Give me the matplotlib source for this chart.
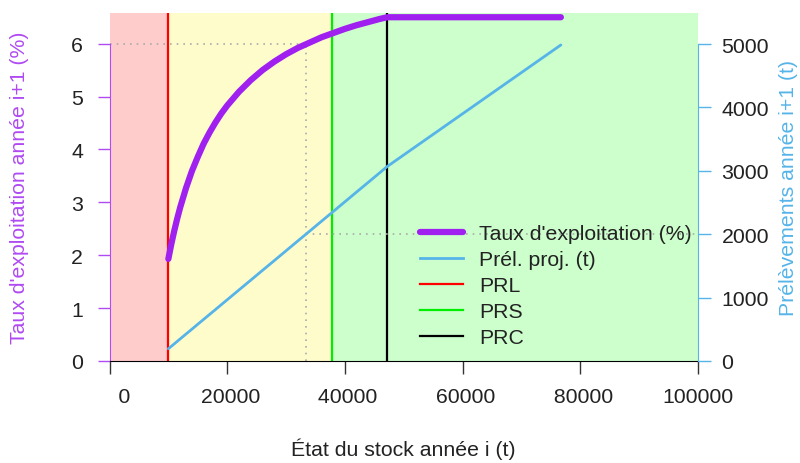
import matplotlib
matplotlib.use("Agg")
import matplotlib.pyplot as plt
from matplotlib.lines import Line2D

plt.rcParams['font.family'] = ['Liberation Sans', 'DejaVu Sans']
FS = 15.3

# --- data ---
stock = [10000, 10500, 11000, 11500, 12000, 13000, 14000, 15000, 16000, 17000,
         18000, 19000, 20000, 22000, 24000, 26000, 28000, 30000, 32000, 34000,
         36000, 38000, 40000, 42000, 44000, 46000, 47200, 76700]
taux = [1.93, 2.21, 2.46, 2.69, 2.90, 3.27, 3.59, 3.86, 4.11, 4.32,
        4.51, 4.68, 4.83, 5.09, 5.31, 5.50, 5.66, 5.80, 5.92, 6.02,
        6.12, 6.20, 6.28, 6.35, 6.41, 6.47, 6.50, 6.50]
prel = [193, 232, 270, 309, 348, 425, 502, 580, 657, 734,
        811, 889, 966, 1121, 1275, 1430, 1584, 1739, 1894, 2048,
        2203, 2357, 2512, 2667, 2821, 2976, 3069, 4986]
PRL, PRS, PRC = 10000, 37800, 47200
ref_stock, ref_taux, ref_prel = 33400, 6.0, 2000
xticks = [0, 20000, 40000, 60000, 80000, 100000]
xticklabels = ["     0", " 20000", " 40000", " 60000", " 80000", "100000"]
yticks_left = [0, 1, 2, 3, 4, 5, 6]
yticks_right = [0, 1000, 2000, 3000, 4000, 5000]

PURPLE = '#A020F0'
PURPLE_AX = '#B04AF2'
BLUE = '#56B4E9'

fig = plt.figure(figsize=(8, 4.64), dpi=100)
ax = fig.add_axes([109.5/800, 1 - 362/464, (698 - 109.5)/800, (362 - 14)/464])
ax2 = ax.twinx()

ax.set_xlim(0, 100000)
ax.set_ylim(0, 6.58)
ax2.set_ylim(0, 5490)

# background zones
ax.axvspan(0, PRL, color='#FFCCCC', lw=0, zorder=0)
ax.axvspan(PRL, PRS, color='#FFFCCC', lw=0, zorder=0)
ax.axvspan(PRS, 100000, color='#CCFFCC', lw=0, zorder=0)

# dotted reference lines
ax.plot([0, ref_stock], [ref_taux, ref_taux], color='#AAAAAA', ls=(0, (1, 3)), lw=1.2, zorder=1)
ax.plot([ref_stock, ref_stock], [0, ref_taux], color='#AAAAAA', ls=(0, (1, 3)), lw=1.2, zorder=1)
ax2.plot([ref_stock, 100000], [ref_prel, ref_prel], color='#AAAAAA', ls=(0, (1, 3)), lw=1.2, zorder=1)

# reference points
ax.axvline(PRL, color='#FF0000', lw=1.6, zorder=2)
ax.axvline(PRS, color='#00EE00', lw=1.6, zorder=2)
ax.axvline(PRC, color='#000000', lw=1.6, zorder=2)

ax.plot(stock, taux, color=PURPLE, lw=4.5, solid_capstyle='round',
        solid_joinstyle='round', zorder=3)
ax2.plot(stock, prel, color=BLUE, lw=2.0, solid_capstyle='round', zorder=3)

# axes styling
for a in (ax, ax2):
    a.spines['top'].set_visible(False)
ax.spines['right'].set_visible(False)
ax2.spines['left'].set_visible(False)
ax2.spines['bottom'].set_visible(False)
ax.spines['left'].set_color(PURPLE_AX)
ax.spines['left'].set_bounds(0, 6)
ax2.spines['right'].set_color(BLUE)
ax2.spines['right'].set_bounds(0, 5000)

ax.set_xticks(xticks)
ax.set_xticklabels(xticklabels)
ax.set_yticks(yticks_left)
ax2.set_yticks(yticks_right)
ax.tick_params(axis='x', length=9, width=1, colors='#333333', labelcolor='#222222',
               labelsize=FS, pad=10)
ax.tick_params(axis='y', length=9, width=1, color=PURPLE_AX, labelcolor='#222222',
               labelsize=FS, pad=10)
ax2.tick_params(axis='y', length=9, width=1, color=BLUE, labelcolor='#222222',
                labelsize=FS, pad=8)

ax.set_xlabel("État du stock année i (t)", fontsize=FS, color='#222222', va='center')
ax.xaxis.set_label_coords(0.5, (362 - 449) / 348)
ax.set_ylabel("Taux d'exploitation année i+1 (%)", fontsize=FS, color=PURPLE_AX, va='center')
ax.yaxis.set_label_coords((20 - 109.5) / 588.5, 0.5)
ax2.set_ylabel("Prélèvements année i+1 (t)", fontsize=FS, color=BLUE, va='center', rotation=90)
ax2.yaxis.set_label_coords((788 - 109.5) / 588.5, 0.5)

handles = [
    Line2D([], [], color=PURPLE, lw=4.5, solid_capstyle='round'),
    Line2D([], [], color=BLUE, lw=2.0),
    Line2D([], [], color='#FF0000', lw=1.6),
    Line2D([], [], color='#00EE00', lw=1.6),
    Line2D([], [], color='#000000', lw=1.6),
]
labels = ["Taux d'exploitation (%)", "Prél. proj. (t)", "PRL", "PRS", "PRC"]
leg = ax2.legend(handles, labels, loc='upper left',
                 bbox_to_anchor=((420 - 109.5) / 588.5, (362 - 225) / 348),
                 frameon=False, fontsize=FS, borderpad=0, borderaxespad=0,
                 handlelength=2.0, handletextpad=0.78, labelspacing=0.33)
for t in leg.get_texts():
    t.set_color('#222222')

fig.savefig("out.png", dpi=100)
